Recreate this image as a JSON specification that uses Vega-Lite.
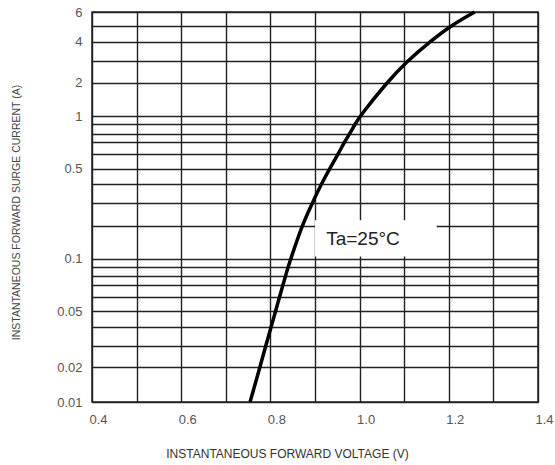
{
  "$schema": "https://vega.github.io/schema/vega-lite/v6.json",
  "width": 446,
  "height": 390,
  "autosize": {"type": "none"},
  "padding": {"left": 92, "top": 12, "right": 17, "bottom": 63},
  "background": "white",
  "config": {
    "view": {"stroke": "#222", "strokeWidth": 1.5},
    "font": "Liberation Sans"
  },
  "datasets": {
    "curve": [
      {"v": 0.7543, "i": 0.01},
      {"v": 0.7767, "i": 0.02},
      {"v": 0.7895, "i": 0.03},
      {"v": 0.8016, "i": 0.04},
      {"v": 0.8117, "i": 0.05},
      {"v": 0.8206, "i": 0.06},
      {"v": 0.828, "i": 0.07},
      {"v": 0.834, "i": 0.08},
      {"v": 0.840, "i": 0.09},
      {"v": 0.846, "i": 0.1},
      {"v": 0.8704, "i": 0.2},
      {"v": 0.894, "i": 0.3},
      {"v": 0.9143, "i": 0.4},
      {"v": 0.9332, "i": 0.5},
      {"v": 0.952, "i": 0.6},
      {"v": 0.966, "i": 0.7},
      {"v": 0.978, "i": 0.8},
      {"v": 0.990, "i": 0.9},
      {"v": 1.001, "i": 1},
      {"v": 1.061, "i": 2},
      {"v": 1.107, "i": 3},
      {"v": 1.158, "i": 4},
      {"v": 1.205, "i": 5},
      {"v": 1.258, "i": 6}
    ],
    "note": [
      {"x1": 0.9, "x2": 1.173, "y1": 0.106, "y2": 0.225, "tx": 0.925, "ty": 0.16, "label": "Ta=25°C"}
    ]
  },
  "layer": [
    {
      "data": {"name": "note"},
      "mark": {"type": "rect", "fill": "white", "stroke": null},
      "encoding": {
        "x": {"field": "x1", "type": "quantitative", "scale": {"domain": [0.4, 1.4], "nice": false, "zero": false},
          "axis": {
            "values": [0.4, 0.5, 0.6, 0.7, 0.8, 0.9, 1.0, 1.1, 1.2, 1.3, 1.4],
            "tickCount": 30, "labelOverlap": false,
            "labelExpr": "round(datum.value*10) % 2 == 0 ? format(datum.value, '.1f') : ''",
            "grid": true, "gridColor": "#222", "gridWidth": 1.4, "gridOpacity": 1,
            "ticks": false, "domain": false, "labelFlush": false, "labelOffset": 6,
            "labelPadding": 11, "labelFontSize": 13, "labelColor": "#555", "labelFont": "Liberation Sans",
            "title": "INSTANTANEOUS FORWARD VOLTAGE (V)", "titleFontSize": 12, "titleFontWeight": "normal",
            "titleColor": "#333", "titleFont": "Liberation Sans", "titleX": 195, "titleY": 51, "titleBaseline": "middle"
          }},
        "x2": {"field": "x2"},
        "y": {"field": "y1", "type": "quantitative",
          "scale": {"type": "linear", "zero": false, "nice": false,
            "domain": [0.01, 0.02, 0.03, 0.04, 0.05, 0.06, 0.07, 0.08, 0.09, 0.1, 0.2, 0.3, 0.4, 0.5, 0.6, 0.7, 0.8, 0.9, 1, 2, 3, 4, 5, 6],
            "range": [390, 355, 334, 315, 299, 285, 273, 264, 254.5, 246.5, 214, 191, 172, 156.5, 142, 130, 121.5, 112, 104, 70.5, 49, 29.5, 13.5, 0]},
          "axis": {
            "values": [0.01, 0.02, 0.03, 0.04, 0.05, 0.06, 0.07, 0.08, 0.09, 0.1, 0.2, 0.3, 0.4, 0.5, 0.6, 0.7, 0.8, 0.9, 1, 2, 3, 4, 5, 6],
            "tickCount": 50, "labelOverlap": false,
            "format": "~g",
            "labelExpr": "indexof([0.01, 0.02, 0.05, 0.1, 0.5, 1, 2, 4, 6], datum.value) >= 0 ? datum.label : ''",
            "grid": true, "gridColor": "#222", "gridWidth": 1.4, "gridOpacity": 1,
            "ticks": false, "domain": false, "labelFlush": false,
            "labelPadding": 10, "labelFontSize": 13, "labelColor": "#555", "labelFont": "Liberation Sans",
            "title": "INSTANTANEOUS FORWARD SURGE CURRENT (A)", "titleFontSize": 10.5, "titleFontWeight": "normal",
            "titleColor": "#444", "titleFont": "Liberation Sans", "titleX": -76, "titleY": 200, "titleAngle": -90,
            "titleAlign": "center", "titleBaseline": "middle"
          }},
        "y2": {"field": "y2"}
      }
    },
    {
      "data": {"name": "note"},
      "mark": {"type": "text", "align": "left", "baseline": "middle", "fontSize": 19, "color": "#222", "font": "Liberation Sans"},
      "encoding": {
        "x": {"field": "tx", "type": "quantitative"},
        "y": {"field": "ty", "type": "quantitative"},
        "text": {"field": "label"}
      }
    },
    {
      "data": {"name": "curve"},
      "mark": {"type": "line", "color": "black", "strokeWidth": 3.5, "interpolate": "basis"},
      "encoding": {
        "x": {"field": "v", "type": "quantitative"},
        "y": {"field": "i", "type": "quantitative"}
      }
    }
  ]
}
